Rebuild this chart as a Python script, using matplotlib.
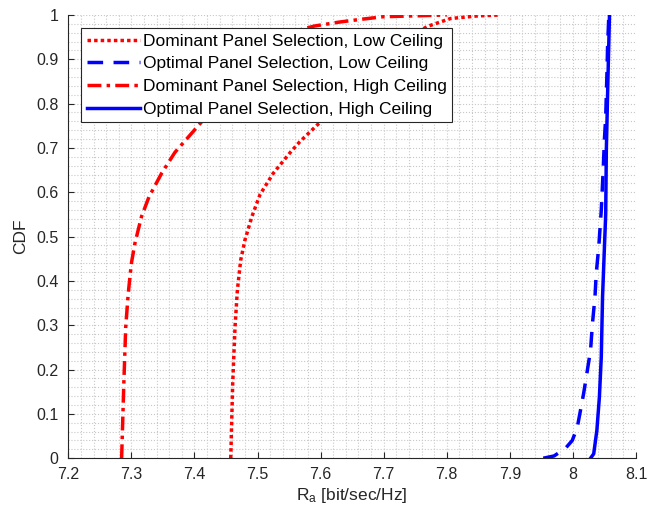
import matplotlib
matplotlib.use('Agg')
import matplotlib.pyplot as plt
from matplotlib.ticker import MultipleLocator, FuncFormatter

plt.rcParams['font.family'] = ['Liberation Sans', 'DejaVu Sans']
plt.rcParams['mathtext.default'] = 'regular'

# CDF curves
dom_low_x = [7.4575, 7.4606, 7.4643, 7.468, 7.4733, 7.480, 7.491, 7.504, 7.525, 7.552,
             7.567, 7.597, 7.63, 7.665, 7.70, 7.735, 7.769, 7.806, 7.85, 7.885]
dom_low_y = [0, 0.169, 0.296, 0.379, 0.447, 0.492, 0.545, 0.595, 0.643, 0.69,
             0.714, 0.755, 0.80, 0.85, 0.90, 0.945, 0.974, 0.992, 0.998, 1.0]

opt_low_x = [7.953, 7.970, 7.988, 7.999, 8.007, 8.012, 8.017, 8.023, 8.028, 8.031, 8.035,
             8.037, 8.041, 8.045, 8.048, 8.050, 8.052, 8.053, 8.054, 8.055, 8.057]
opt_low_y = [0, 0.005, 0.022, 0.04, 0.07, 0.108, 0.146, 0.199, 0.244, 0.304, 0.364,
             0.417, 0.477, 0.56, 0.65, 0.72, 0.77, 0.82, 0.87, 0.93, 1.0]

dom_high_x = [7.2845, 7.288, 7.291, 7.295, 7.300, 7.3056, 7.316, 7.328, 7.348, 7.369,
              7.409, 7.435, 7.465, 7.50, 7.525, 7.556, 7.59, 7.63, 7.663, 7.699, 7.80]
dom_high_y = [0, 0.169, 0.296, 0.372, 0.44, 0.485, 0.545, 0.59, 0.643, 0.69,
              0.755, 0.80, 0.85, 0.90, 0.93, 0.962, 0.975, 0.984, 0.99, 0.996, 1.0]

opt_high_x = [8.028, 8.033, 8.038, 8.042, 8.045, 8.047, 8.050, 8.052, 8.053, 8.056, 8.058]
opt_high_y = [0, 0.01, 0.063, 0.138, 0.229, 0.364, 0.477, 0.55, 0.695, 0.883, 1.0]

labels = ['Dominant Panel Selection, Low Ceiling',
          'Optimal Panel Selection, Low Ceiling',
          'Dominant Panel Selection, High Ceiling',
          'Optimal Panel Selection, High Ceiling']

fig = plt.figure(figsize=(6.57, 5.16), dpi=100)
ax = fig.add_axes([0.104, 0.112, 0.864, 0.859])

lw = 2.5
ax.plot(dom_low_x, dom_low_y, color='#ff0000', lw=lw, linestyle=(0, (1, 0.9)), label=labels[0])
ax.plot(opt_low_x, opt_low_y, color='#0000ff', lw=lw, linestyle=(0, (4.5, 3)), label=labels[1])
ax.plot(dom_high_x, dom_high_y, color='#ff0000', lw=lw, linestyle=(0, (4, 1.5, 1, 1.5)), label=labels[2])
ax.plot(opt_high_x, opt_high_y, color='#0000ff', lw=lw, linestyle='-', label=labels[3])

ax.set_xlim(7.2, 8.1)
ax.set_ylim(0, 1)
ax.xaxis.set_major_locator(MultipleLocator(0.1))
ax.yaxis.set_major_locator(MultipleLocator(0.1))
ax.xaxis.set_minor_locator(MultipleLocator(0.02))
ax.yaxis.set_minor_locator(MultipleLocator(0.02))
fmt = FuncFormatter(lambda v, p: ('%.1f' % v).rstrip('0').rstrip('.'))
ax.xaxis.set_major_formatter(fmt)
ax.yaxis.set_major_formatter(fmt)

ax.grid(which='both', color='#c8c8c8', linestyle=':', linewidth=0.8)
ax.set_axisbelow(True)

for s in ['top', 'right']:
    ax.spines[s].set_visible(False)
for s in ['left', 'bottom']:
    ax.spines[s].set_color('#262626')
    ax.spines[s].set_linewidth(0.8)

ax.tick_params(which='major', direction='in', length=4, width=0.8, colors='#262626',
               labelsize=11.5, labelcolor='#262626')
ax.tick_params(axis='y', pad=7)
ax.tick_params(axis='x', pad=6)
ax.tick_params(which='minor', length=0)

ax.set_xlabel('R$_a$ [bit/sec/Hz]', fontsize=12.5, color='#262626', labelpad=3)
ax.set_ylabel('CDF', fontsize=12.5, color='#262626', labelpad=6)

leg = ax.legend(loc='upper left', bbox_to_anchor=(0.023, 0.97), borderaxespad=0,
                fontsize=12.5, handlelength=3.05, handletextpad=0.2, labelspacing=0.44,
                borderpad=0.3, fancybox=False, framealpha=1, edgecolor='#262626')
leg.get_frame().set_linewidth(0.8)

fig.savefig('out.png', dpi=100)
